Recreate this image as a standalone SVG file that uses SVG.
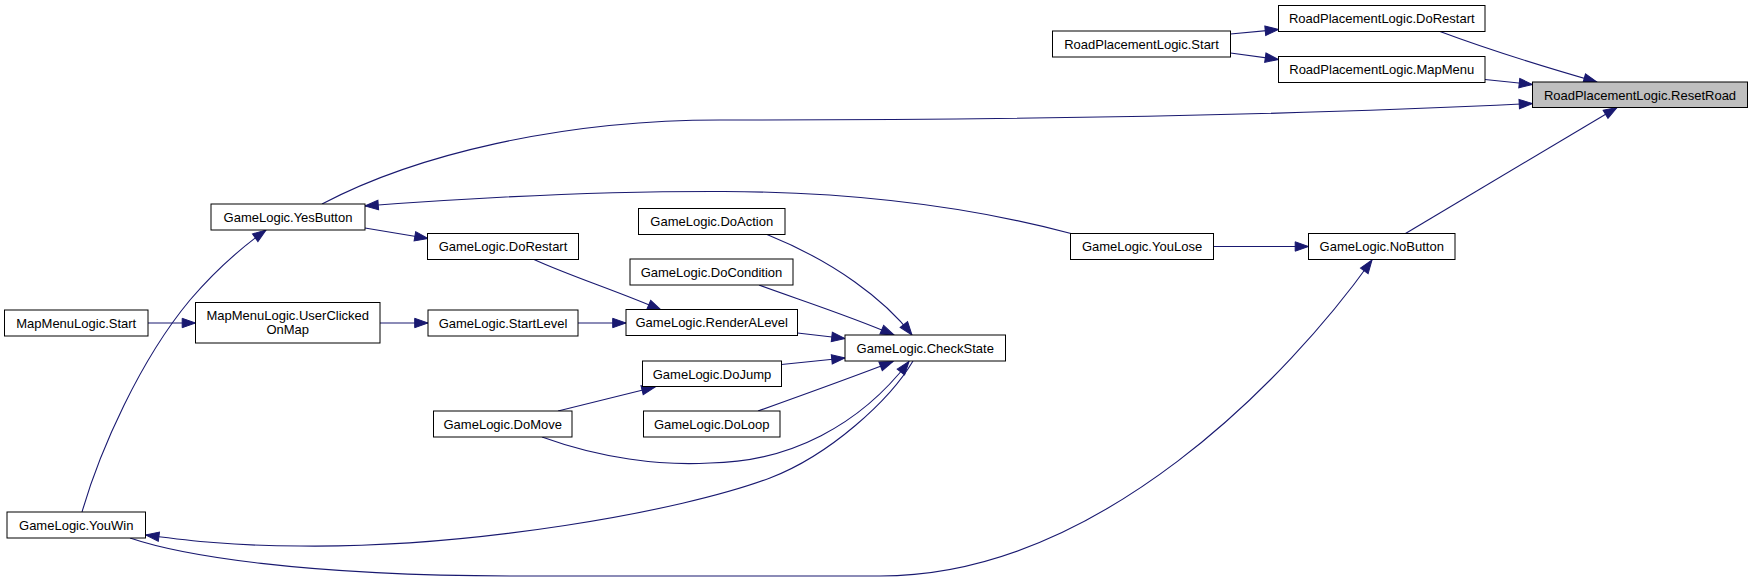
<svg xmlns="http://www.w3.org/2000/svg" width="1752" height="581" viewBox="0 0 1752 581">
<style>
.n rect{fill:#ffffff;stroke:#000000;stroke-width:1}
.n.hl rect{fill:#bfbfbf}
.n text{font-family:"Liberation Sans",Arial,sans-serif;font-size:13px;fill:#000000;text-anchor:middle}
#edges path{fill:none;stroke:#191970;stroke-width:1.1;marker-end:url(#ah)}
</style>
<defs>
<marker id="ah" markerUnits="userSpaceOnUse" markerWidth="16" markerHeight="12" refX="13.3" refY="5.2" orient="auto" overflow="visible">
<path d="M0,0.5 L13.3,5.2 L0,9.9 z" fill="#191970" stroke="#191970" stroke-width="1"/>
</marker>
</defs>
<rect width="1752" height="581" fill="#ffffff"/>
<g id="edges">
<path d="M1440,31.5 C1495,52 1555,70 1597,82"/>
<path d="M1485,79.5 L1532.5,84.5"/>
<path d="M1230.5,34 L1278.5,29.5"/>
<path d="M1230.5,53 L1278.5,59.5"/>
<path d="M322,204 C415,155 560,120 720,120 C1000,120 1300,115 1532.5,103.5"/>
<path d="M1405.5,233.5 L1617,107.5"/>
<path d="M1213.5,246.5 L1308.5,246.5"/>
<path d="M1071,233.5 C990,212 880,192 724,191.5 C600,191 470,198 365,206"/>
<path d="M365,228 L428,238.5"/>
<path d="M534,259.5 C570,276 620,292 661,310"/>
<path d="M148,323 L195.5,323"/>
<path d="M380,323 L428,323"/>
<path d="M578,323 L626,323"/>
<path d="M767,234.5 C835,262 885,300 912,335"/>
<path d="M759,285 C800,300 850,316 894,335"/>
<path d="M797.5,333 L845,338.5"/>
<path d="M781.5,364.5 L845,358"/>
<path d="M758,411 C800,396 850,378 893,361.5"/>
<path d="M558,411 L655,387"/>
<path d="M542,437 C600,458 660,466 710,463 C790,462 860,425 909,361.5"/>
<path d="M913,361 C890,400 830,455 770,478 C680,512 470,548 300,546 C230,546 185,540 145.7,535"/>
<path d="M82,512 C100,450 140,360 190,300 C220,265 245,245 266,230"/>
<path d="M130,538 C180,555 300,576 520,576 L880,576 C1100,576 1290,375 1372,260"/>
</g>
<g id="rpl_dorestart" class="n"><rect x="1278.5" y="5.5" width="206.5" height="26"/><text x="1381.75" y="23">RoadPlacementLogic.DoRestart</text></g>
<g id="rpl_start" class="n"><rect x="1052.5" y="31" width="178" height="26"/><text x="1141.5" y="48.5">RoadPlacementLogic.Start</text></g>
<g id="rpl_mapmenu" class="n"><rect x="1278.5" y="56.5" width="206.5" height="26"/><text x="1381.75" y="74">RoadPlacementLogic.MapMenu</text></g>
<g id="rpl_resetroad" class="n hl"><rect x="1532.5" y="82" width="215" height="25.5"/><text x="1640" y="99.5">RoadPlacementLogic.ResetRoad</text></g>
<g id="gl_yesbutton" class="n"><rect x="211" y="204" width="154" height="26"/><text x="288" y="221.5">GameLogic.YesButton</text></g>
<g id="gl_dorestart" class="n"><rect x="427.5" y="233.5" width="151" height="26"/><text x="503" y="251">GameLogic.DoRestart</text></g>
<g id="gl_doaction" class="n"><rect x="638.5" y="208.5" width="146.5" height="26"/><text x="711.75" y="226">GameLogic.DoAction</text></g>
<g id="gl_docondition" class="n"><rect x="630" y="259" width="163" height="26"/><text x="711.5" y="276.5">GameLogic.DoCondition</text></g>
<g id="gl_youlose" class="n"><rect x="1070.5" y="233.5" width="143" height="26"/><text x="1142" y="251">GameLogic.YouLose</text></g>
<g id="gl_nobutton" class="n"><rect x="1308.5" y="233.5" width="146.5" height="26"/><text x="1381.75" y="251">GameLogic.NoButton</text></g>
<g id="mml_start" class="n"><rect x="4.5" y="310" width="143.5" height="26"/><text x="76.25" y="327.5">MapMenuLogic.Start</text></g>
<g id="mml_userclickedonmap" class="n"><rect x="195.5" y="302.5" width="184.5" height="40.5"/><text x="287.75" y="320">MapMenuLogic.UserClicked</text><text x="287.75" y="334">OnMap</text></g>
<g id="gl_startlevel" class="n"><rect x="428" y="310" width="150" height="26"/><text x="503" y="327.5">GameLogic.StartLevel</text></g>
<g id="gl_renderalevel" class="n"><rect x="626" y="309.5" width="171.5" height="26"/><text x="711.75" y="327">GameLogic.RenderALevel</text></g>
<g id="gl_checkstate" class="n"><rect x="845" y="335" width="160.5" height="26"/><text x="925.25" y="352.5">GameLogic.CheckState</text></g>
<g id="gl_dojump" class="n"><rect x="642.5" y="361" width="139" height="25.5"/><text x="712" y="378.5">GameLogic.DoJump</text></g>
<g id="gl_domove" class="n"><rect x="433.5" y="411" width="138.5" height="26"/><text x="502.75" y="428.5">GameLogic.DoMove</text></g>
<g id="gl_doloop" class="n"><rect x="643.5" y="411" width="136.5" height="26"/><text x="711.75" y="428.5">GameLogic.DoLoop</text></g>
<g id="gl_youwin" class="n"><rect x="7" y="512" width="138.5" height="26"/><text x="76.25" y="529.5">GameLogic.YouWin</text></g>
</svg>
